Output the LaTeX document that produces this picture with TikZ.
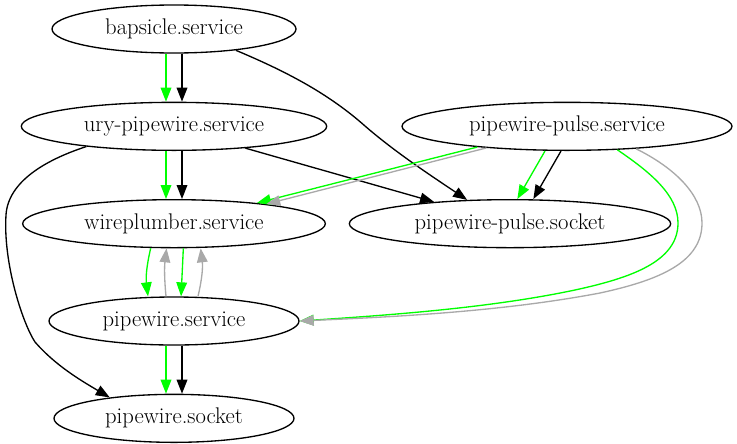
\documentclass[tikz,border=0pt]{standalone}
\usetikzlibrary{arrows.meta,positioning,shapes.geometric}
\definecolor{DepGreen}{RGB}{0,255,0}
\definecolor{DepGray}{RGB}{169,169,169}
\tikzset{
  unitbox/.style={
    draw,
    ellipse,
    line width=1pt,
    inner sep=0pt,
    minimum height=36pt,
    font=\fontsize{17}{20}\selectfont
  },
  arrow/.style={-{Triangle[length=10.5pt,width=8pt]},line width=1pt}
}

\begin{document}
\begin{tikzpicture}[x=0.75pt,y=-0.75pt,node distance=36pt and 55.5pt]

\useasboundingbox (0,0) rectangle (737,443);

\node[unitbox,minimum width=183pt] (bap) at (174,29) {bapsicle.service};
\node[unitbox,minimum width=229pt,below=of bap] (ury) {ury-pipewire.service};
\node[unitbox,minimum width=227pt,below=of ury] (wp) {wireplumber.service};
\node[unitbox,minimum width=187.5pt,below=of wp] (pw) {pipewire.service};
\node[unitbox,minimum width=180pt,below=of pw] (pwsock) {pipewire.socket};

\node[unitbox,minimum width=247.5pt,right=of ury] (pps) {pipewire-pulse.service};
\node[unitbox,minimum width=241pt,right=17pt of wp] (ppsock) {pipewire-pulse.socket};

% bapsicle
\draw[arrow,DepGreen] ([xshift=-6pt]bap.south) -- ([xshift=-6pt]ury.north);
\draw[arrow] ([xshift=6pt]bap.south) -- ([xshift=6pt]ury.north);
\draw[arrow] (bap.-19) .. controls (290,73) and (330,95) .. (365,126)
  .. controls (395,152) and (430,175) .. (ppsock.151);

% ury-pipewire
\draw[arrow,DepGreen] ([xshift=-6pt]ury.south) -- ([xshift=-6pt]wp.north);
\draw[arrow] ([xshift=6pt]ury.south) -- ([xshift=6pt]wp.north);
\draw[arrow] (ury.-17) -- (ppsock.164);
\draw[arrow] (ury.193) .. controls (45,160) and (8,182) .. (6,215)
  .. controls (3,262) and (22,322) .. (35,342)
  .. controls (55,365) and (80,380) .. (pwsock.162);

% pipewire-pulse
\draw[arrow,DepGreen] (pps.-167) -- (wp.14.6);
\draw[arrow,DepGray] (pps.-165) -- (wp.12.2);
\draw[arrow,DepGreen] ([xshift=-16.5pt]pps.south) -- ([xshift=5.5pt]ppsock.north);
\draw[arrow] ([xshift=-4.5pt]pps.south) -- ([xshift=17.5pt]ppsock.north);
\draw[arrow,DepGreen] (pps.-25.6) .. controls (650,172) and (678,195) .. (678,223)
  .. controls (678,262) and (630,278) .. (575,290)
  .. controls (490,308) and (390,315) .. (pw.east);
\draw[arrow,DepGray] (pps.-18) .. controls (675,168) and (702,195) .. (702,223)
  .. controls (702,262) and (660,280) .. (600,293)
  .. controls (500,312) and (390,317) .. (pw.east);

% wireplumber / pipewire
\draw[arrow,DepGreen] ([xshift=-17.5pt]wp.south) to[bend right=10] ([xshift=-19.5pt]pw.north);
\draw[arrow,DepGray] ([xshift=-6pt]pw.north) to[bend left=6] ([xshift=-5.6pt]wp.south);
\draw[arrow,DepGreen] ([xshift=7pt]wp.south) -- ([xshift=5.3pt]pw.north);
\draw[arrow,DepGray] ([xshift=18pt]pw.north) to[bend right=10] ([xshift=20pt]wp.south);

\draw[arrow,DepGreen] ([xshift=-6pt]pw.south) -- ([xshift=-6pt]pwsock.north);
\draw[arrow] ([xshift=6pt]pw.south) -- ([xshift=6pt]pwsock.north);

\end{tikzpicture}
\end{document}
